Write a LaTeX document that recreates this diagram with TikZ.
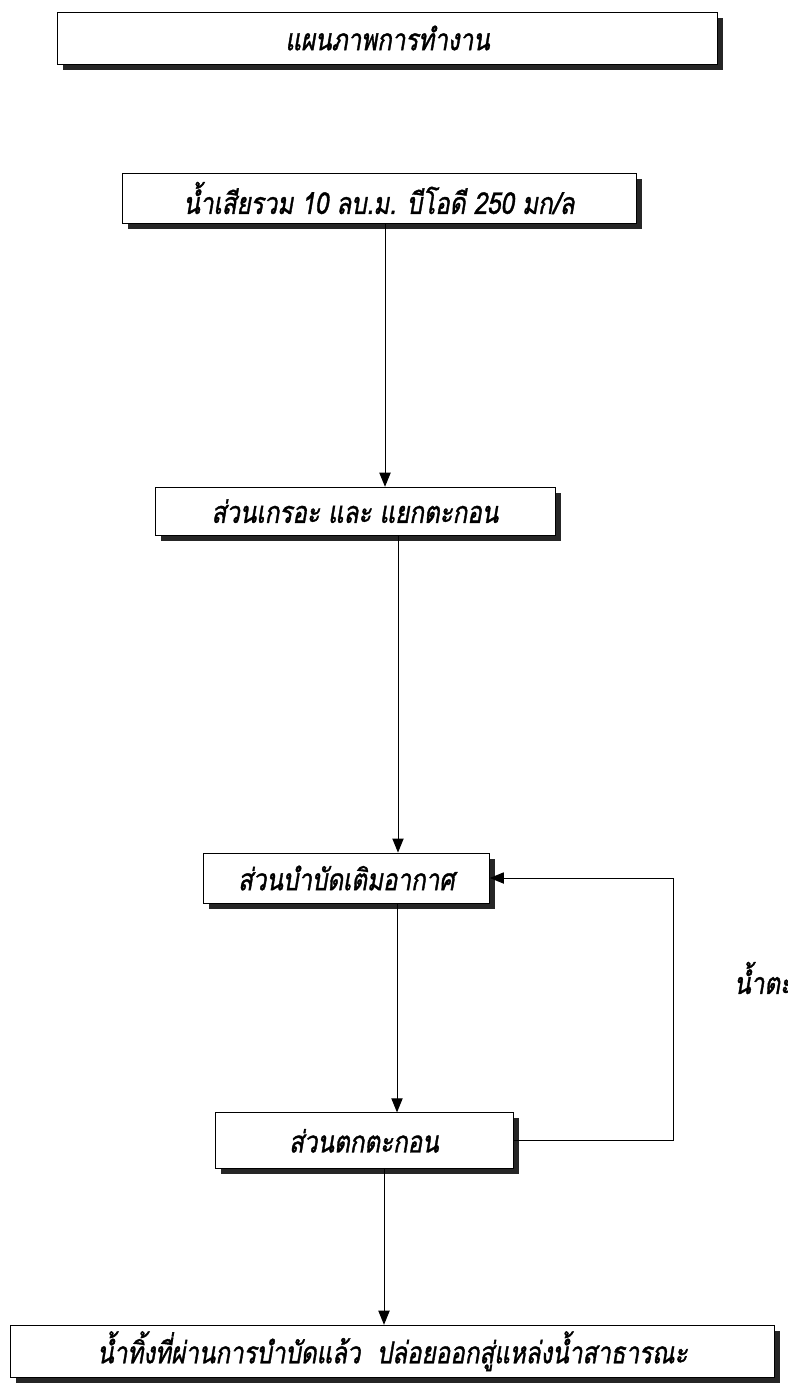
\documentclass[tikz,border=0pt]{standalone}
\usepackage{fontspec}
\newfontfamily\thaifont[Script=Thai,FakeStretch=0.8,FakeBold=1.2]{Loma}
\usetikzlibrary{arrows.meta,shadows}

\begin{document}
\begin{tikzpicture}[
  x=1cm,
  y=1cm,
  font=\thaifont\itshape\fontsize{21.5}{24}\selectfont,
  >={Triangle[width=8pt,length=10pt]},
  box/.style={draw, fill=white, line width=0.6pt, minimum height=1.25cm, align=center,
    drop shadow={shadow xshift=4pt, shadow yshift=-4pt, fill=black!85, opacity=1}},
  flow/.style={->, line width=0.7pt},
  lab/.style={anchor=west, inner sep=0pt}
]
  \useasboundingbox (0,0) rectangle (19.675,-34.575);

  \node[box, minimum width=16.5cm, minimum height=1.3cm] (title) at (9.69,-0.95) {แผนภาพการทำงาน};
  \node[box, minimum width=12.85cm] (inflow) at (9.475,-4.95) {น้ำเสียรวม 10 ลบ.ม. บีโอดี 250 มก/ล};
  \node[box, minimum width=10.0cm, minimum height=1.2cm] (septic) at (8.875,-12.78) {ส่วนเกรอะ และ แยกตะกอน};
  \node[box, minimum width=7.15cm] (aerate) at (8.66,-21.95) {ส่วนบำบัดเติมอากาศ};
  \node[box, minimum width=7.45cm, minimum height=1.4cm] (settle) at (9.1,-28.52) {ส่วนตกตะกอน};
  \node[box, minimum width=19.1cm, minimum height=1.3cm] (outflow) at (9.81,-33.78) {น้ำทิ้งที่ผ่านการบำบัดแล้ว~~ปล่อยออกสู่แหล่งน้ำสาธารณะ};
  \node[lab] (sludge) at (18.35,-24.45) {น้ำตะกอน};

  \coordinate (c1) at (9.625,0);
  \coordinate (c2) at (9.95,0);
  \coordinate (c3) at (9.925,0);
  \coordinate (c4) at (9.6,0);
  \coordinate (loop) at (16.825,0);

  \draw[flow] (inflow.south -| c1) -- (septic.north -| c1);
  \draw[flow] (septic.south -| c2) -- (aerate.north -| c2);
  \draw[flow] (aerate.south -| c3) -- (settle.north -| c3);
  \draw[flow] (settle.south -| c4) -- (outflow.north -| c4);
  \draw[flow] (settle.east) -| (loop |- aerate.east) -- (aerate.east);
\end{tikzpicture}
\end{document}
